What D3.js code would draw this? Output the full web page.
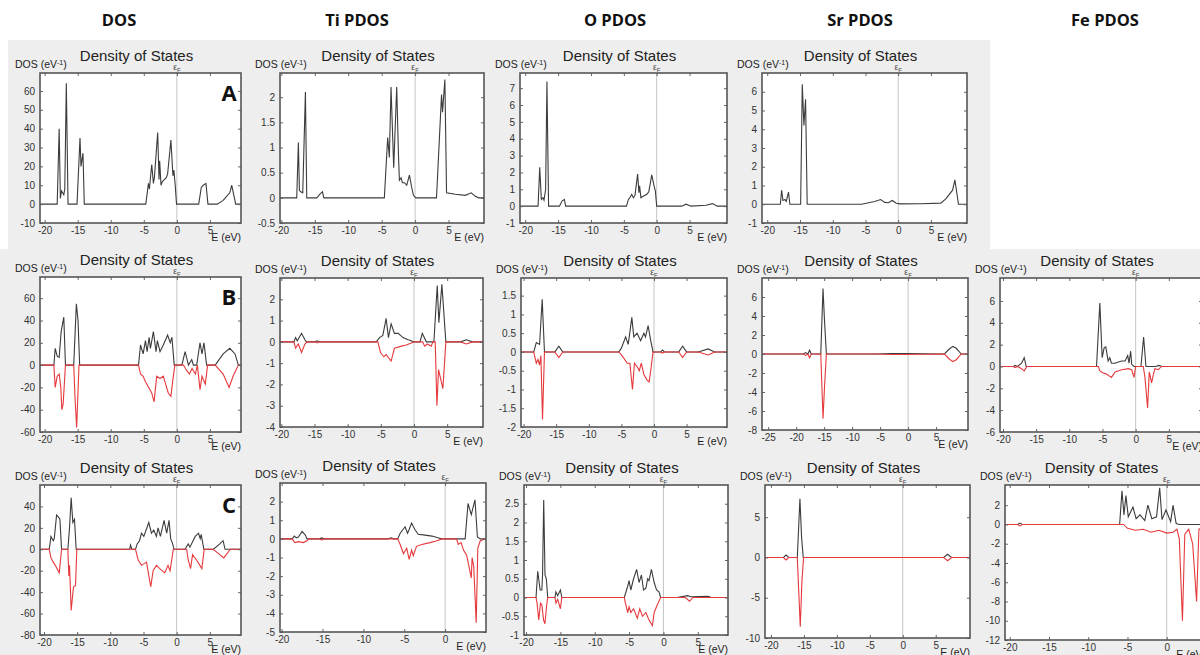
<!DOCTYPE html>
<html>
<head>
<meta charset="utf-8">
<script src="https://cdn.jsdelivr.net/npm/d3@7"></script>
<style>
body { margin: 0; background: #fff; }
svg text { font-family: "Liberation Sans", Arial, sans-serif; }
</style>
</head>
<body>
<svg id="chart" width="1200" height="655"></svg>
<script>
// column headers and row letters
var columnTitles = ['DOS', 'Ti PDOS', 'O PDOS', 'Sr PDOS', 'Fe PDOS'];
var rowLetters = ['A', 'B', 'C'];

// tick values
var xTicks20 = [-20, -15, -10, -5, 0, 5];
var xTicks25 = [-25, -20, -15, -10, -5, 0, 5];
var xTicksNo5 = [-20, -15, -10, -5, 0];
var yTicksDosA = [-10, 0, 10, 20, 30, 40, 50, 60];
var yTicksTiA = [-0.5, 0, 0.5, 1, 1.5, 2];
var yTicksOA = [-1, 0, 1, 2, 3, 4, 5, 6, 7];
var yTicksSrA = [-1, 0, 1, 2, 3, 4, 5, 6];
var yTicksDosB = [-60, -40, -20, 0, 20, 40, 60];
var yTicksTiB = [-4, -3, -2, -1, 0, 1, 2];
var yTicksOB = [-2, -1.5, -1, -0.5, 0, 0.5, 1, 1.5];
var yTicksSrB = [-8, -6, -4, -2, 0, 2, 4, 6];
var yTicksFeB = [-6, -4, -2, 0, 2, 4, 6];
var yTicksDosC = [-80, -60, -40, -20, 0, 20, 40];
var yTicksTiC = [-5, -4, -3, -2, -1, 0, 1, 2];
var yTicksOC = [-1, -0.5, 0, 0.5, 1, 1.5, 2, 2.5];
var yTicksSrC = [-10, -5, 0, 5];
var yTicksFeC = [-12, -10, -8, -6, -4, -2, 0, 2];

// ---- row A (non spin polarised) : [E (eV), DOS] ----
var dosA = [[-20.7,0],[-18.1,0],[-17.8,40],[-17.62,3],[-17.45,7],[-17.1,5],[-16.95,8],[-16.72,64],[-16.46,0],
  [-15.1,0],[-14.65,35],[-14.5,20],[-14.2,27],[-14.0,0],
  [-4.7,0],[-4.3,11],[-4.15,8],[-4.05,12],[-3.8,21],[-3.55,11],[-3.4,14],[-2.9,38],[-2.7,13],[-2.6,23],[-2.4,10],[-2.2,12],[-1.9,13],[-1.6,14],[-1.4,16],[-0.9,34],[-0.6,15],[-0.45,18],[-0.25,10],[-0.05,0],
  [3.3,0],[3.7,9],[4.0,10],[4.4,11],[4.7,0],
  [6.1,0],[7.0,2],[8.0,6],[8.3,10],[8.9,0],[9.7,0]];
var tiA = [[-20.2,0],[-17.7,0],[-17.45,1.1],[-17.3,0.15],[-17.1,0.12],[-16.8,0.1],[-16.4,2.1],[-16.2,0],
  [-14.7,0],[-14.2,0.08],[-13.85,0.12],[-13.65,0],
  [-4.6,0],[-4.1,1.2],[-3.85,0.8],[-3.6,2.2],[-3.2,0.6],[-2.75,2.2],[-2.5,0.9],[-2.35,0.35],[-2.1,0.4],[-1.9,0.3],[-1.6,0.3],[-1.25,0.25],[-0.85,0.45],[-0.5,0.2],[-0.25,0.05],[0.1,0],
  [3.2,0],[3.95,2.05],[4.1,1.7],[4.45,2.35],[4.7,0.1],[6.0,0.07],[7.5,0.05],[8.4,0.1],[9.0,0.03],[9.5,0],[10.3,0]];
var oA = [[-20.8,0],[-18.05,0],[-17.8,2.3],[-17.55,0.4],[-17.3,0.5],[-17.15,0.35],[-16.9,1.0],[-16.7,7.4],[-16.45,0],
  [-14.8,0],[-14.4,0.3],[-14.05,0.4],[-13.85,0],
  [-4.6,0],[-4.3,0.4],[-4.1,0.5],[-3.8,0.7],[-3.55,0.5],[-3.3,0.65],[-2.9,1.9],[-2.7,0.8],[-2.6,1.2],[-2.4,0.5],[-2.0,0.6],[-1.5,0.7],[-1.2,0.85],[-0.75,1.85],[-0.4,1.2],[-0.2,0.9],[0,0],
  [3.8,0],[4.5,0.12],[5.2,0],[7.5,0.05],[8.5,0.15],[9.2,0],[10.7,0]];
var srA = [[-20.8,0],[-18.0,0],[-17.8,0.75],[-17.6,0.2],[-17.3,0.25],[-17.1,0.15],[-16.75,0.65],[-16.55,0],
  [-14.9,0],[-14.65,6.4],[-14.4,4.2],[-14.15,5.6],[-13.9,0],
  [-5.6,0],[-3.6,0.15],[-2.7,0.25],[-2.05,0.1],[-1.5,0.08],[-0.9,0.2],[-0.3,0.05],[0.3,0.02],[3.5,0.03],[6.5,0.06],[7.3,0.3],[8.3,0.75],[8.65,1.3],[9.2,0],[10.5,0]];

// ---- row B (spin up / spin down) ----
var dosBUp = [[-20.7,0],[-18.6,0],[-18.4,15],[-18.1,8],[-17.8,7],[-17.5,30],[-17.1,43],[-16.85,0],
  [-15.6,0],[-15.2,55],[-14.95,40],[-14.7,0],
  [-5.8,0],[-5.5,18],[-5.1,10],[-4.75,22],[-4.5,12],[-4.2,25],[-4.0,15],[-3.55,30],[-3.15,12],[-2.95,22],[-2.55,12],[-2.05,18],[-1.4,27],[-1.0,20],[-0.75,25],[-0.4,0],
  [0.75,0],[1.25,12],[1.75,0],[2.25,5],[2.5,0],[3.0,0],[3.5,20],[3.8,10],[4.1,20],[4.5,0],
  [5.8,0],[7.0,10],[8.0,15],[8.8,10],[9.3,0],[9.7,0]];
var dosBDown = [[-20.7,0],[-18.6,0],[-18.4,-20],[-18.1,-10],[-17.8,-8],[-17.55,-20],[-17.4,-40],[-17.2,-35],[-16.85,0],
  [-15.6,0],[-15.4,-30],[-15.15,-56],[-14.8,0],
  [-5.8,0],[-5.5,-8],[-5.1,-10],[-4.75,-15],[-3.8,-25],[-3.45,-33],[-3.05,-10],[-2.55,-12],[-2.05,-10],[-1.8,-15],[-1.3,-25],[-0.9,-28],[-0.65,-15],[-0.3,0],
  [1.0,0],[1.5,-5],[1.9,-8],[2.3,-3],[2.8,-8],[3.1,0],[3.5,-22],[3.8,-10],[4.3,-17],[4.65,0],
  [5.8,0],[7.0,-8],[7.9,-20],[8.5,-10],[9.3,0],[9.7,0]];
var tiBUp = [[-20.2,0],[-18.1,0],[-17.85,0.2],[-17.6,0.05],[-16.95,0.4],[-16.45,0.1],[-16.2,0],
  [-14.9,0],[-14.6,0.05],[-14.3,0],
  [-5.7,0],[-5.2,0.2],[-4.7,0.3],[-4.2,1.1],[-3.85,0.2],[-3.45,0.85],[-2.95,0.4],[-2.4,0.4],[-1.65,0.2],[-0.9,0.1],[-0.4,0.05],[-0.15,0],
  [0.9,0],[1.25,0.4],[1.85,0],
  [3.0,0],[3.5,2.65],[3.75,0.9],[4.2,2.7],[4.8,0],
  [7.0,0],[7.9,0.1],[8.8,0],[10.4,0]];
var tiBDown = [[-20.2,0],[-18.1,0],[-17.85,-0.3],[-17.45,-0.1],[-16.95,-0.5],[-16.45,-0.1],[-16.1,0],
  [-14.9,0],[-14.6,-0.05],[-14.3,0],
  [-5.45,0],[-5.05,-0.5],[-4.55,-0.7],[-4.2,-0.6],[-3.45,-0.9],[-2.95,-0.3],[-1.9,-0.2],[-1.15,-0.15],[-0.4,-0.05],[0,0],
  [1.3,0],[1.6,-0.2],[2.0,-0.1],[2.6,-0.2],[2.85,0],
  [3.2,0],[3.45,-3.0],[3.7,-1.3],[4.35,-2.2],[4.6,-1.0],[4.8,0],
  [7.0,0],[7.9,-0.1],[8.8,0],[10.4,0]];
var oBUp = [[-20.4,0],[-18.45,0],[-18.05,0.25],[-17.55,0.2],[-17.15,1.4],[-16.8,0],
  [-15.2,0],[-14.6,0.15],[-14.0,0],
  [-5.4,0],[-5.0,0.1],[-4.35,0.4],[-3.95,0.2],[-3.4,0.92],[-3.1,0.4],[-2.6,0.5],[-2.05,0.3],[-1.55,0.5],[-1.3,0.4],[-0.9,0.7],[-0.5,0.3],[-0.15,0],
  [1.0,0],[1.3,0.05],[1.6,0],
  [3.8,0],[4.4,0.15],[5.0,0],
  [6.8,0],[8.3,0.08],[9.3,0],[11.2,0]];
var oBDown = [[-20.4,0],[-18.45,0],[-18.05,-0.3],[-17.8,-0.2],[-17.55,-0.35],[-17.35,-0.1],[-17.1,-1.8],[-16.8,0],
  [-15.2,0],[-14.6,-0.15],[-14.0,0],
  [-5.4,0],[-4.9,-0.1],[-4.1,-0.3],[-3.7,-0.3],[-3.3,-1.0],[-3.0,-0.3],[-2.55,-0.4],[-2.25,-0.5],[-1.95,-0.3],[-1.55,-0.6],[-1.05,-0.75],[-0.75,-0.8],[-0.5,-0.5],[-0.15,0],
  [1.0,0],[1.3,-0.03],[1.6,0],
  [3.8,0],[4.4,-0.15],[5.0,0],
  [6.8,0],[8.3,-0.08],[9.3,0],[11.2,0]];
var srBUp = [[-26,0],[-18.7,0],[-18.3,0.15],[-17.9,0],[-17.6,0.4],[-17.3,0],
  [-15.6,0],[-15.2,6.9],[-14.95,3.7],[-14.6,0],
  [-6,0],[-3,0.05],[-0.5,0.05],[6.5,0],[7.3,0.5],[8.0,0.8],[8.6,0.6],[9.5,0],[10.7,0]];
var srBDown = [[-26,0],[-18.7,0],[-18.3,-0.15],[-17.9,0],[-17.6,-0.4],[-17.3,0],
  [-15.6,0],[-15.2,-6.8],[-14.95,-3.7],[-14.6,0],
  [-6,0],[-3,-0.05],[-0.5,-0.05],[6.5,0],[7.3,-0.5],[8.0,-0.8],[8.6,-0.6],[9.5,0],[10.7,0]];
var feBUp = [[-20.45,0],[-18.4,0],[-18.2,0.1],[-17.8,0],[-17.2,0.3],[-16.8,0.8],[-16.5,0],
  [-5.9,0],[-5.4,5.8],[-5.05,0.8],[-4.75,1.7],[-4.5,1.8],[-4.15,0.5],[-3.9,0.8],[-3.65,0.3],[-3.1,0.3],[-2.6,0.4],[-2.1,0.5],[-1.6,0.5],[-1.2,1.0],[-1.0,0.3],[-0.75,1.4],[-0.6,0.2],[-0.25,0],
  [0.8,0],[1.2,2.7],[1.55,0],
  [3.0,0],[3.5,0.1],[4.0,0],[10,0]];
var feBDown = [[-20.45,0],[-18.4,0],[-18.2,-0.1],[-17.8,0],[-17.2,-0.2],[-16.8,-0.4],[-16.4,0],
  [-5.6,0],[-5.4,-0.4],[-4.9,-0.6],[-4.4,-0.7],[-3.65,-1.0],[-3.1,-0.5],[-2.1,-0.3],[-1.1,-0.2],[-0.6,-0.3],[-0.25,-1.0],[0,0],
  [1.15,0],[1.4,-1.0],[1.8,-3.8],[2.05,-0.5],[2.4,-1.5],[2.65,-0.8],[2.9,-0.2],[3.4,-0.3],[3.9,0],[10,0]];

// ---- row C (spin up / spin down) ----
var dosCUp = [[-20.6,0],[-19.2,0],[-18.95,12],[-18.6,8],[-18.45,10],[-18.1,32],[-17.8,30],[-17.6,28],[-17.35,0],
  [-16.4,0],[-16.15,20],[-15.9,48],[-15.65,25],[-15.4,28],[-15.15,0],
  [-7.1,0],[-6.95,4],[-6.75,0],
  [-6.2,0],[-5.95,5],[-5.6,8],[-5.3,15],[-4.95,12],[-4.2,25],[-3.8,15],[-3.45,18],[-3.05,12],[-2.8,20],[-2.45,12],[-1.9,27],[-1.5,15],[-1.15,27],[-0.9,10],[-0.6,5],[-0.4,0],
  [1.25,0],[1.75,5],[2.0,2],[2.8,12],[3.3,15],[3.55,10],[3.7,14],[4.1,0],
  [5.55,0],[6.5,5],[7.0,8],[7.3,0],[9.7,0]];
var dosCDown = [[-20.6,0],[-19.2,0],[-18.95,-8],[-18.6,-12],[-18.3,-15],[-17.7,-22],[-17.35,0],
  [-16.4,0],[-16.25,-25],[-16.15,-15],[-15.9,-57],[-15.55,-35],[-15.25,-34],[-15.05,0],
  [-6.2,0],[-5.8,-10],[-5.3,-15],[-4.55,-12],[-3.9,-35],[-3.55,-20],[-3.05,-15],[-2.55,-18],[-1.8,-22],[-1.3,-15],[-1.0,-20],[-0.5,0],
  [1.5,0],[1.75,-10],[2.1,-18],[2.4,-5],[3.0,-10],[3.5,-15],[3.8,-18],[4.15,0],
  [5.5,0],[6.5,-5],[7.1,-8],[8.1,0],[9.7,0]];
var tiCUp = [[-20.3,0],[-18.7,0],[-18.45,0.15],[-18.2,0.05],[-17.95,0.1],[-17.5,0.4],[-17.1,0.2],[-16.9,0],
  [-15.4,0],[-15.1,0.05],[-14.8,0],
  [-7.0,0],[-6.6,0.05],[-6.3,0],
  [-5.8,0],[-5.5,0.3],[-4.9,0.65],[-4.6,0.3],[-4.4,0.5],[-4.1,0.85],[-3.7,0.5],[-3.3,0.25],[-2.45,0.2],[-1.6,0.15],[-0.8,0.05],[-0.4,0],
  [2.45,0],[2.8,1.9],[3.2,1.3],[3.65,2.1],[3.95,0.1],[4.3,0],[5,0]];
var tiCDown = [[-20.3,0],[-18.7,0],[-18.4,-0.2],[-17.95,-0.15],[-17.35,-0.2],[-16.9,-0.1],[-16.7,0],
  [-15.4,0],[-15.1,-0.05],[-14.8,0],
  [-5.8,0],[-5.5,-0.3],[-5.1,-0.8],[-4.7,-0.5],[-4.4,-1.1],[-4.1,-0.6],[-3.9,-0.9],[-3.5,-0.4],[-2.85,-0.3],[-1.85,-0.2],[-1.0,-0.1],[-0.4,0],
  [1.4,0],[1.6,-0.3],[1.95,-0.2],[2.25,-0.6],[2.65,-0.9],[3.2,-2.1],[3.3,-1.0],[3.5,-1.5],[3.8,-4.5],[4.0,-0.5],[4.3,-0.1],[4.9,0],[5,0]];
var oCUp = [[-20.3,0],[-18.55,0],[-18.3,0.7],[-17.95,0.2],[-17.7,0.2],[-17.6,0.6],[-17.43,2.6],[-17.24,0.6],[-17.05,0.5],[-16.85,0],
  [-15.8,0],[-15.65,0.15],[-15.4,0.05],[-15.0,0.2],[-14.8,0],
  [-5.7,0],[-5.2,0.3],[-5.0,0.45],[-4.75,0.2],[-4.35,0.5],[-3.9,0.75],[-3.55,0.4],[-3.2,0.6],[-2.9,0.2],[-2.55,0.25],[-2.3,0.5],[-2.1,0.45],[-1.75,0.75],[-1.35,0.4],[-1.0,0.2],[-0.65,0.15],[-0.4,0],
  [2.0,0],[3.5,0.05],[4.0,0.02],[6.5,0.03],[7.0,0],[9.4,0]];
var oCDown = [[-20.3,0],[-18.55,0],[-18.4,-0.15],[-18.15,-0.6],[-17.9,-0.15],[-17.7,-0.2],[-17.45,-0.6],[-17.25,-0.7],[-17.0,-0.2],[-16.85,0],
  [-15.8,0],[-15.65,-0.15],[-15.4,-0.05],[-15.0,-0.3],[-14.8,0],
  [-5.7,0],[-5.6,-0.1],[-5.2,-0.4],[-5.0,-0.25],[-4.75,-0.4],[-4.35,-0.3],[-3.8,-0.55],[-3.45,-0.3],[-3.05,-0.5],[-2.55,-0.4],[-2.1,-0.6],[-1.6,-0.75],[-1.35,-0.4],[-0.9,-0.2],[-0.4,0],
  [3.2,0],[3.8,-0.1],[4.3,0],[9.4,0]];
var srCUp = [[-20.9,0],[-18.1,0],[-17.7,0.3],[-17.3,0],[-16.0,0],[-15.6,7.3],[-15.35,2.5],[-15.1,0],[6.2,0],[6.8,0.4],[7.4,0],[10.2,0]];
var srCDown = [[-20.9,0],[-18.1,0],[-17.7,-0.3],[-17.3,0],[-16.0,0],[-15.55,-8.6],[-15.3,-3],[-15.05,0],[6.2,0],[6.8,-0.4],[7.4,0],[10.2,0]];
var feCUp = [[-20.6,0],[-19.0,0],[-18.7,0.15],[-18.4,0],[-6.0,0],[-5.7,3.5],[-5.45,1.0],[-5.2,3.0],[-4.9,0.8],[-4.3,1.8],[-3.9,0.6],[-3.4,1.0],[-2.8,0.4],[-2.4,2.0],[-1.9,0.6],[-1.3,0.8],[-0.9,3.8],[-0.6,0.5],[-0.1,1.5],[0.5,0.3],[0.8,2.0],[1.2,0.1],[1.6,0],[5,0]];
var feCDown = [[-20.6,0],[-19.0,0],[-18.7,-0.15],[-18.4,0],[-5.5,0],[-5.0,-0.4],[-4.0,-0.6],[-3.0,-0.5],[-2.0,-0.8],[-1.0,-0.6],[0,-0.9],[0.8,-0.8],[1.3,-0.5],[1.6,-1.5],[2.0,-10.0],[2.3,-1.0],[2.8,-0.5],[3.3,-2.0],[3.8,-8.0],[4.1,-0.5],[5,0]];

// panel layout (pixel boxes and axis ranges)
var panels = [
  {x0:40,  x1:241,  y0:73,  y1:223, xd:[-20.7,9.7],   yd:[-10,69.5], xt:xTicks20, yt:yTicksDosA, up:dosA, letter:rowLetters[0]},
  {x0:280, x1:484,  y0:73,  y1:223, xd:[-20.2,10.3],  yd:[-0.5,2.48], xt:xTicks20, yt:yTicksTiA, up:tiA},
  {x0:520, x1:727,  y0:73,  y1:223, xd:[-20.8,10.7],  yd:[-1,7.9],   xt:xTicks20, yt:yTicksOA, up:oA},
  {x0:762, x1:967,  y0:73,  y1:223, xd:[-20.8,10.5],  yd:[-1,7],     xt:xTicks20, yt:yTicksSrA, up:srA},
  {x0:40,  x1:241,  y0:277, y1:432, xd:[-20.7,9.7],   yd:[-60,79],   xt:xTicks20, yt:yTicksDosB, up:dosBUp, down:dosBDown, letter:rowLetters[1]},
  {x0:280, x1:483,  y0:278, y1:427, xd:[-20.2,10.4],  yd:[-4,3],     xt:xTicks20, yt:yTicksTiB, up:tiBUp, down:tiBDown},
  {x0:521, x1:727,  y0:278, y1:427, xd:[-20.4,11.2],  yd:[-2,1.97],  xt:xTicks20, yt:yTicksOB, up:oBUp, down:oBDown},
  {x0:762, x1:968,  y0:278, y1:430, xd:[-26.1,10.7],  yd:[-8,8],     xt:xTicks25, yt:yTicksSrB, up:srBUp, down:srBDown},
  {x0:1000,x1:1202, y0:278, y1:432, xd:[-20.45,10],   yd:[-6,8.1],   xt:xTicks20, yt:yTicksFeB, up:feBUp, down:feBDown},
  {x0:40,  x1:241,  y0:485, y1:635, xd:[-20.6,9.7],   yd:[-80,60],   xt:xTicks20, yt:yTicksDosC, up:dosCUp, down:dosCDown, letter:rowLetters[2]},
  {x0:280, x1:486,  y0:483, y1:632, xd:[-20.2,5.0],   yd:[-5,3],     xt:xTicksNo5, yt:yTicksTiC, up:tiCUp, down:tiCDown},
  {x0:524, x1:728,  y0:485, y1:635, xd:[-20.3,9.4],   yd:[-1,3],     xt:xTicks20, yt:yTicksOC, up:oCUp, down:oCDown},
  {x0:765, x1:970,  y0:485, y1:638, xd:[-20.9,10.2],  yd:[-10,9],    xt:xTicks20, yt:yTicksSrC, up:srCUp, down:srCDown},
  {x0:1005,x1:1206, y0:485, y1:640, xd:[-20.6,5],     yd:[-12,4.1],  xt:xTicks20, yt:yTicksFeC, up:feCUp, down:feCDown}
];

var svg = d3.select('#chart');
var defs = svg.append('defs');

// grey picture backgrounds
svg.append('rect').attr('x', 8).attr('y', 40).attr('width', 982).attr('height', 209).attr('fill', '#eeeeee');
svg.append('rect').attr('x', 0).attr('y', 249).attr('width', 1200).attr('height', 406).attr('fill', '#eeeeee');

// column headers
var headerX = [119, 357, 615, 860, 1105];
svg.selectAll('text.colhead').data(columnTitles).enter()
  .append('text')
  .attr('class', 'colhead')
  .attr('x', function(d, i){ return headerX[i]; })
  .attr('y', 26)
  .attr('text-anchor', 'middle')
  .style('font-family', '"Open Sans", sans-serif')
  .style('font-weight', 'bold')
  .style('font-size', '16.5px')
  .attr('fill', '#111')
  .text(function(d){ return d; });

var fmt = function(d){ return String(d); };

panels.forEach(function(p, i){
  var x = d3.scaleLinear().domain(p.xd).range([p.x0, p.x1]);
  var y = d3.scaleLinear().domain(p.yd).range([p.y1, p.y0]);
  var g = svg.append('g');

  defs.append('clipPath').attr('id', 'clip' + i)
    .append('rect').attr('x', p.x0).attr('y', p.y0).attr('width', p.x1 - p.x0).attr('height', p.y1 - p.y0);

  g.append('rect')
    .attr('x', p.x0).attr('y', p.y0)
    .attr('width', p.x1 - p.x0).attr('height', p.y1 - p.y0)
    .attr('fill', '#fff');

  // Fermi level
  g.append('line')
    .attr('x1', x(0)).attr('x2', x(0))
    .attr('y1', p.y0).attr('y2', p.y1)
    .attr('stroke', '#c4c4c4').attr('stroke-width', 1);

  var line = d3.line()
    .x(function(d){ return x(d[0]); })
    .y(function(d){ return y(d[1]); });

  var curves = g.append('g').attr('clip-path', 'url(#clip' + i + ')');
  curves.append('path').datum(p.up)
    .attr('d', line).attr('fill', 'none')
    .attr('stroke', '#3c3c3c').attr('stroke-width', 1.1);
  if(p.down){
    curves.append('path').datum(p.down)
      .attr('d', line).attr('fill', 'none')
      .attr('stroke', '#e6393c').attr('stroke-width', 1.1);
  }

  // axes, ticks pointing inwards
  var bottom = g.append('g').attr('transform', 'translate(0,' + p.y1 + ')')
    .call(d3.axisBottom(x).tickValues(p.xt).tickSize(-3).tickPadding(4).tickFormat(fmt));
  var left = g.append('g').attr('transform', 'translate(' + p.x0 + ',0)')
    .call(d3.axisLeft(y).tickValues(p.yt).tickSize(-3).tickPadding(5).tickFormat(fmt));
  var top = g.append('g').attr('transform', 'translate(0,' + p.y0 + ')')
    .call(d3.axisTop(x).tickValues(p.xt).tickSize(-3).tickFormat(''));
  var right = g.append('g').attr('transform', 'translate(' + p.x1 + ',0)')
    .call(d3.axisRight(y).tickValues(p.yt).tickSize(-3).tickFormat(''));
  [bottom, left, top, right].forEach(function(a){
    a.select('.domain').remove();
    a.selectAll('line').attr('stroke', '#666');
    a.selectAll('text')
      .style('font-family', '"Liberation Sans", Arial, sans-serif')
      .style('font-size', '10px')
      .attr('fill', '#333');
  });

  // frame
  g.append('rect')
    .attr('x', p.x0).attr('y', p.y0)
    .attr('width', p.x1 - p.x0).attr('height', p.y1 - p.y0)
    .attr('fill', 'none').attr('stroke', '#555').attr('stroke-width', 1.6);

  // titles
  g.append('text')
    .attr('x', (p.x0 + p.x1) / 2 - 4).attr('y', p.y0 - 12)
    .attr('text-anchor', 'middle')
    .style('font-size', '15px').attr('fill', '#222')
    .text('Density of States');

  var dl = g.append('text')
    .attr('x', p.x0 - 25).attr('y', p.y0 - 5)
    .style('font-size', '10.5px').attr('fill', '#222');
  dl.append('tspan').text('DOS (eV');
  dl.append('tspan').attr('dy', -3).style('font-size', '7px').text('-1');
  dl.append('tspan').attr('dy', 3).text(')');

  var ef = g.append('text')
    .attr('x', x(0)).attr('y', p.y0 - 3)
    .attr('text-anchor', 'middle')
    .style('font-size', '8.5px').attr('fill', '#444');
  ef.append('tspan').text('ε');
  ef.append('tspan').attr('dy', 1.5).style('font-size', '6px').text('F');

  g.append('text')
    .attr('x', p.x1).attr('y', p.y1 + 18)
    .attr('text-anchor', 'end')
    .style('font-size', '10.5px').attr('fill', '#222')
    .text('E (eV)');

  if(p.letter){
    g.append('text')
      .attr('x', p.x1 - 12).attr('y', p.y0 + 28)
      .attr('text-anchor', 'middle')
      .style('font-family', '"Open Sans", sans-serif')
      .style('font-weight', 'bold')
      .style('font-size', '22px')
      .attr('fill', '#111')
      .text(p.letter);
  }
});
</script>
</body>
</html>
